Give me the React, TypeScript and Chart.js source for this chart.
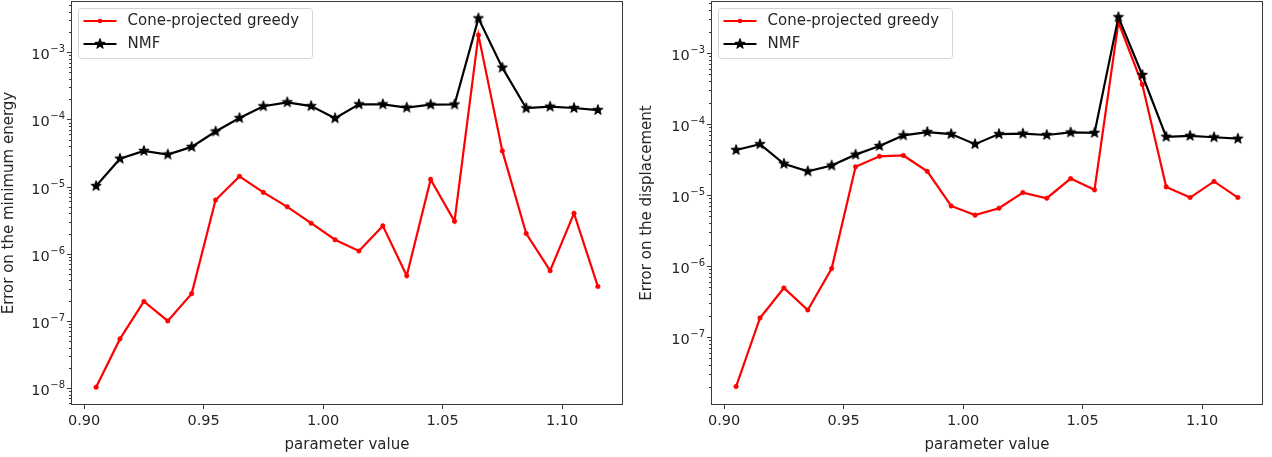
import React, { useEffect, useRef } from "react";
import { Chart, registerables } from "chart.js";

Chart.register(...registerables);

// ---------- data ----------
const PARAMS = [
  0.905, 0.915, 0.925, 0.935, 0.945, 0.955, 0.965, 0.975, 0.985, 0.995, 1.005,
  1.015, 1.025, 1.035, 1.045, 1.055, 1.065, 1.075, 1.085, 1.095, 1.105, 1.115,
];
const X_TICKS = [0.9, 0.95, 1.0, 1.05, 1.1];

const ENERGY_GREEDY = [
  1.03e-8, 5.4e-8, 1.95e-7, 1.0e-7, 2.55e-7, 6.3e-6, 1.42e-5, 8.2e-6, 5.0e-6,
  2.85e-6, 1.62e-6, 1.1e-6, 2.6e-6, 4.7e-7, 1.28e-5, 3.05e-6, 1.8e-3, 3.4e-5,
  2.0e-6, 5.6e-7, 4.0e-6, 3.25e-7,
];
const ENERGY_NMF = [
  1.02e-5, 2.6e-5, 3.4e-5, 3.0e-5, 3.9e-5, 6.6e-5, 1.05e-4, 1.57e-4, 1.8e-4,
  1.58e-4, 1.04e-4, 1.68e-4, 1.68e-4, 1.5e-4, 1.66e-4, 1.67e-4, 3.2e-3, 5.9e-4,
  1.47e-4, 1.55e-4, 1.48e-4, 1.38e-4,
];
const DISP_GREEDY = [
  2.0e-8, 1.85e-7, 4.9e-7, 2.4e-7, 9.2e-7, 2.5e-5, 3.5e-5, 3.6e-5, 2.15e-5,
  7.0e-6, 5.2e-6, 6.5e-6, 1.08e-5, 9.0e-6, 1.7e-5, 1.18e-5, 2.7e-3, 3.6e-4,
  1.3e-5, 9.2e-6, 1.55e-5, 9.2e-6,
];
const DISP_NMF = [
  4.3e-5, 5.2e-5, 2.75e-5, 2.15e-5, 2.6e-5, 3.7e-5, 4.9e-5, 6.9e-5, 7.7e-5,
  7.2e-5, 5.2e-5, 7.2e-5, 7.3e-5, 7.0e-5, 7.6e-5, 7.5e-5, 3.2e-3, 4.9e-4,
  6.6e-5, 6.8e-5, 6.5e-5, 6.2e-5,
];

const SERIES_LABELS = ["Cone-projected greedy", "NMF"];
const X_LABEL = "parameter value";
const Y_LABEL_ENERGY = "Error on the minimum energy";
const Y_LABEL_DISP = "Error on the displacement";

// ---------- styling ----------
const FONT = "'DejaVu Sans', 'Liberation Sans', sans-serif";
const TEXT = "#262626";
const SPINE = "#3a3a3a";
const RED = "#ff0000";
const BLACK = "#000000";

function makeStar(): HTMLCanvasElement {
  const s = 14;
  const c = document.createElement("canvas");
  c.width = s;
  c.height = s;
  const g = c.getContext("2d")!;
  const cx = s / 2,
    cy = s / 2,
    R = 5.4,
    r = 2.2;
  g.beginPath();
  for (let i = 0; i < 10; i++) {
    const ang = -Math.PI / 2 + (i * Math.PI) / 5;
    const rad = i % 2 === 0 ? R : r;
    g.lineTo(cx + rad * Math.cos(ang), cy + rad * Math.sin(ang));
  }
  g.closePath();
  g.fillStyle = BLACK;
  g.fill();
  g.lineWidth = 1;
  g.strokeStyle = BLACK;
  g.stroke();
  return c;
}

const SUPERSCRIPT_MINUS = "\u2212";

const axesPlugin = {
  id: "mplAxes",
  afterDraw(chart: any) {
    const { ctx, chartArea: a } = chart;
    const ys = chart.scales.y;
    ctx.save();
    // spines
    ctx.strokeStyle = SPINE;
    ctx.lineWidth = 1;
    ctx.strokeRect(a.left + 0.5, a.top + 0.5, a.right - a.left - 1, a.bottom - a.top - 1);
    // y ticks (log)
    const lo = Math.floor(Math.log10(ys.min));
    const hi = Math.ceil(Math.log10(ys.max));
    for (let e = lo; e <= hi; e++) {
      for (let m = 1; m <= 9; m++) {
        const v = m * Math.pow(10, e);
        if (v < ys.min || v > ys.max) continue;
        const y = Math.round(ys.getPixelForValue(v)) + 0.5;
        const len = m === 1 ? 4 : 2;
        ctx.beginPath();
        ctx.moveTo(a.left - len, y);
        ctx.lineTo(a.left, y);
        ctx.stroke();
        if (m === 1) {
          const right = a.left - 6;
          ctx.fillStyle = TEXT;
          ctx.textBaseline = "alphabetic";
          ctx.textAlign = "left";
          const sup = SUPERSCRIPT_MINUS + String(Math.abs(e));
          ctx.font = `10px ${FONT}`;
          const supW = ctx.measureText(sup).width;
          ctx.font = `14.5px ${FONT}`;
          const baseW = ctx.measureText("10").width;
          const x0 = right - supW - baseW - 0.5;
          ctx.fillText("10", x0, y + 6.5);
          ctx.font = `10px ${FONT}`;
          ctx.fillText(sup, x0 + baseW + 0.5, y - 1);
        }
      }
    }
    ctx.restore();
  },
};

const legendPlugin = {
  id: "mplLegend",
  afterDatasetsDraw(chart: any) {
    const { ctx, chartArea: a } = chart;
    const x0 = a.left + 7.5,
      y0 = a.top + 7.5,
      w = 234,
      h = 50,
      r = 3;
    ctx.save();
    ctx.beginPath();
    ctx.moveTo(x0 + r, y0);
    ctx.lineTo(x0 + w - r, y0);
    ctx.arcTo(x0 + w, y0, x0 + w, y0 + r, r);
    ctx.lineTo(x0 + w, y0 + h - r);
    ctx.arcTo(x0 + w, y0 + h, x0 + w - r, y0 + h, r);
    ctx.lineTo(x0 + r, y0 + h);
    ctx.arcTo(x0, y0 + h, x0, y0 + h - r, r);
    ctx.lineTo(x0, y0 + r);
    ctx.arcTo(x0, y0, x0 + r, y0, r);
    ctx.closePath();
    ctx.fillStyle = "rgba(255,255,255,0.8)";
    ctx.fill();
    ctx.strokeStyle = "#d4d4d4";
    ctx.lineWidth = 1;
    ctx.stroke();
    chart.data.datasets.forEach((ds: any, i: number) => {
      const y = Math.round(y0 + 12 + i * 23);
      ctx.strokeStyle = ds.borderColor;
      ctx.lineWidth = ds.borderWidth;
      ctx.beginPath();
      ctx.moveTo(x0 + 5, y);
      ctx.lineTo(x0 + 38, y);
      ctx.stroke();
      const mx = x0 + 21.5;
      if (ds.pointStyle && typeof ds.pointStyle !== "string") {
        const img = ds.pointStyle;
        ctx.drawImage(img, mx - img.width / 2, y - img.height / 2);
      } else {
        ctx.beginPath();
        ctx.arc(mx, y, ds.pointRadius, 0, Math.PI * 2);
        ctx.fillStyle = ds.pointBackgroundColor;
        ctx.fill();
      }
      ctx.fillStyle = TEXT;
      ctx.font = `15px ${FONT}`;
      ctx.textBaseline = "middle";
      ctx.textAlign = "left";
      ctx.fillText(ds.label, x0 + 49, y + 0.5);
    });
    ctx.restore();
  },
};

type PanelProps = {
  greedy: number[];
  nmf: number[];
  yLabel: string;
  yMin: number;
  yMax: number;
  yAxisWidth: number;
  rightPad: number;
  titlePad: number;
};

function Panel(props: PanelProps) {
  const ref = useRef<HTMLCanvasElement | null>(null);
  useEffect(() => {
    const canvas = ref.current;
    if (!canvas) return;
    const star = makeStar();
    const toPts = (vals: number[]) => PARAMS.map((x, i) => ({ x, y: vals[i] }));
    const chart = new Chart(canvas, {
      type: "line",
      data: {
        datasets: [
          {
            label: SERIES_LABELS[0],
            data: toPts(props.greedy),
            borderColor: RED,
            backgroundColor: RED,
            borderWidth: 2.2,
            pointRadius: 2.3,
            pointBackgroundColor: RED,
            pointBorderColor: RED,
            pointBorderWidth: 0.5,
            tension: 0,
            order: 1,
          } as any,
          {
            label: SERIES_LABELS[1],
            data: toPts(props.nmf),
            borderColor: BLACK,
            backgroundColor: BLACK,
            borderWidth: 2.2,
            pointStyle: star as any,
            pointRadius: 5,
            tension: 0,
            order: 0,
          } as any,
        ],
      },
      options: {
        animation: false,
        responsive: false,
        maintainAspectRatio: false,
        layout: {
          autoPadding: false,
          padding: { left: 0, right: props.rightPad, top: 1, bottom: 0 },
        },
        plugins: {
          legend: { display: false },
          tooltip: { enabled: false },
        },
        scales: {
          x: {
            type: "linear",
            min: 0.8945,
            max: 1.1255,
            afterBuildTicks: (scale: any) => {
              scale.ticks = X_TICKS.map((v) => ({ value: v }));
            },
            afterFit: (scale: any) => {
              scale.height = 52;
            },
            ticks: {
              autoSkip: false,
              maxRotation: 0,
              padding: 4,
              color: TEXT,
              font: { family: FONT, size: 14.5 },
              callback: (v: any) => Number(v).toFixed(2),
            },
            grid: {
              display: true,
              drawOnChartArea: false,
              drawTicks: true,
              tickLength: 4,
              tickColor: SPINE,
              color: SPINE,
            },
            border: { display: false },
            title: {
              display: true,
              text: X_LABEL,
              color: TEXT,
              font: { family: FONT, size: 15 },
              padding: { top: 0, bottom: 3 },
            },
          },
          y: {
            type: "logarithmic",
            min: props.yMin,
            max: props.yMax,
            afterFit: (scale: any) => {
              scale.width = props.yAxisWidth;
            },
            ticks: { display: false },
            grid: { display: false },
            border: { display: false },
            title: {
              display: true,
              text: props.yLabel,
              color: TEXT,
              font: { family: FONT, size: 15 },
              padding: { top: props.titlePad, bottom: 0 },
            },
          },
        },
      } as any,
      plugins: [axesPlugin, legendPlugin],
    });
    return () => chart.destroy();
  }, []);
  return (
    <canvas
      ref={ref}
      width={636}
      height={457}
      style={{ width: 636, height: 457, display: "block" }}
    />
  );
}

export default function App() {
  return (
    <div
      style={{
        position: "fixed",
        left: 0,
        top: 0,
        width: 1272,
        height: 457,
        background: "#ffffff",
        display: "flex",
        flexDirection: "row",
      }}
    >
      <Panel
        greedy={ENERGY_GREEDY}
        nmf={ENERGY_NMF}
        yLabel={Y_LABEL_ENERGY}
        yMin={5.6e-9}
        yMax={5.8e-3}
        yAxisWidth={71}
        rightPad={13}
        titlePad={0}
      />
      <Panel
        greedy={DISP_GREEDY}
        nmf={DISP_NMF}
        yLabel={Y_LABEL_DISP}
        yMin={1.1e-8}
        yMax={5.4e-3}
        yAxisWidth={75}
        rightPad={9}
        titlePad={2}
      />
    </div>
  );
}
